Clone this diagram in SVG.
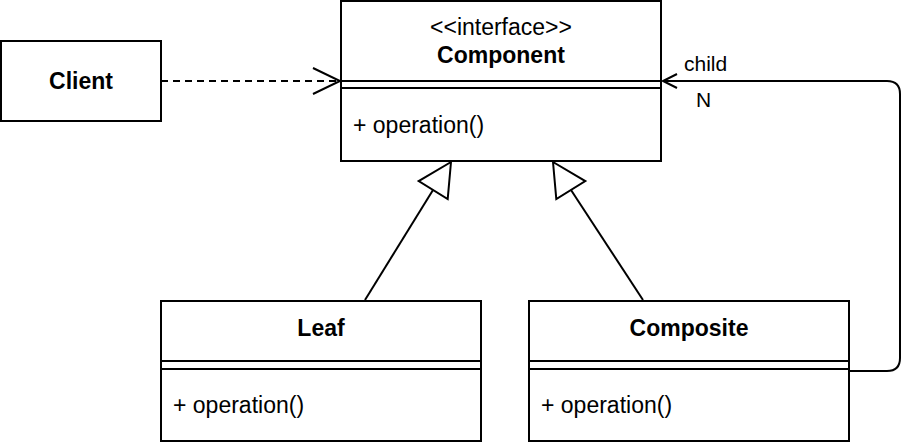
<svg xmlns="http://www.w3.org/2000/svg" width="918" height="448" viewBox="0 0 918 448">
<style>
.box{fill:#fff;stroke:#000;stroke-width:2}
.ln{fill:none;stroke:#000;stroke-width:2}
.t{font-family:"Liberation Sans",Arial,sans-serif;font-size:23px;fill:#000}
.b{font-weight:bold}
.e{font-family:"Liberation Sans",Arial,sans-serif;font-size:21px;fill:#000}
</style>
<rect width="918" height="448" fill="#fff"/>
<g id="connectors">
  <path class="ln" d="M161,81 H339" stroke-dasharray="7 5"/>
  <path class="ln" d="M313,68 L340,81 L313,94"/>
  <path class="ln" d="M849,371 H887 Q900,371 900,358 V94 Q900,81 887,81 H663"/>
  <path class="ln" d="M677,74 L663,81 L677,88"/>
  <path class="ln" d="M365,300 L433,190"/>
  <path class="ln" d="M451,162 L447.7,199 L418.7,181.1 Z" fill="#fff"/>
  <path class="ln" d="M643,300 L571,190"/>
  <path class="ln" d="M553,162 L556.3,199 L585.3,181.1 Z" fill="#fff"/>
  <text class="e" x="684" y="71">child</text>
  <text class="e" x="696" y="107">N</text>
</g>
<g id="client">
  <rect class="box" x="1" y="41" width="160" height="80"/>
  <text class="t b" x="81" y="89" text-anchor="middle">Client</text>
</g>
<g id="component">
  <rect class="box" x="341" y="1" width="320" height="160"/>
  <line class="ln" x1="341" y1="81" x2="661" y2="81"/>
  <line class="ln" x1="341" y1="88" x2="661" y2="88"/>
  <text class="t" x="501" y="35" text-anchor="middle">&lt;&lt;interface&gt;&gt;</text>
  <text class="t b" x="501" y="63" text-anchor="middle">Component</text>
  <text class="t" x="353" y="133">+ operation()</text>
</g>
<g id="leaf">
  <rect class="box" x="161" y="301" width="320" height="140"/>
  <line class="ln" x1="161" y1="361" x2="481" y2="361"/>
  <line class="ln" x1="161" y1="369" x2="481" y2="369"/>
  <text class="t b" x="321" y="336" text-anchor="middle">Leaf</text>
  <text class="t" x="173" y="413">+ operation()</text>
</g>
<g id="composite">
  <rect class="box" x="529" y="301" width="320" height="140"/>
  <line class="ln" x1="529" y1="361" x2="849" y2="361"/>
  <line class="ln" x1="529" y1="369" x2="849" y2="369"/>
  <text class="t b" x="689" y="336" text-anchor="middle">Composite</text>
  <text class="t" x="541" y="413">+ operation()</text>
</g>
</svg>
